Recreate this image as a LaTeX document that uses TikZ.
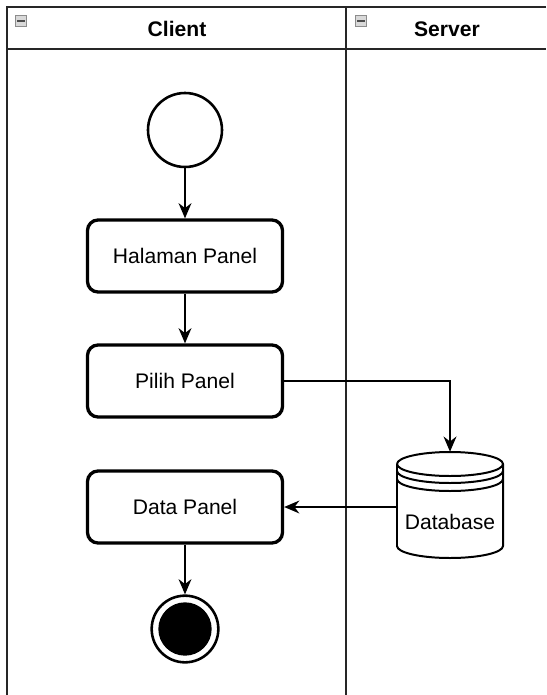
\documentclass[tikz,border=0pt]{standalone}
\usepackage{fontspec}
\setmainfont{Liberation Sans}
\usetikzlibrary{arrows.meta,positioning}

\tikzset{
    lane/.style={line width=1.7pt, draw=black!85},
    action/.style={draw, line width=2.8pt, rounded corners=9pt,
        minimum width=5.85cm, minimum height=2.16cm, font=\fontsize{18}{20}\selectfont},
    initial/.style={draw, circle, line width=2.2pt, minimum size=2.22cm},
    final/.style={draw, circle, line width=2.2pt, minimum size=2.0cm,
        path picture={\fill (path picture bounding box.center) circle (0.8cm);}},
    flow/.style={line width=1.4pt, -{Stealth[length=13pt, width=11pt]}},
    collapse/.style={draw=black!45, fill=black!15, line width=0.7pt,
        minimum size=0.33cm, inner sep=0pt},
}

\begin{document}
\begin{tikzpicture}[x=0.03cm, y=-0.03cm]
        \useasboundingbox (0,0) rectangle (546,695);
        % swimlanes
        \draw[lane] (546,7) -- (7,7) -- (7,695);
        \draw[lane] (7,49) -- (546,49);
        \draw[lane] (346,7) -- (346,695);
        \node[collapse] (iconc) at (21,21) {};
        \node[collapse] (icons) at (361,21) {};
        \draw[black!70, line width=1pt] ([xshift=2pt]iconc.west) -- ([xshift=-2pt]iconc.east);
        \draw[black!70, line width=1pt] ([xshift=2pt]icons.west) -- ([xshift=-2pt]icons.east);
        \node[font=\bfseries\fontsize{18}{20}\selectfont] (client) at (177,29) {Client};
        \node[font=\bfseries\fontsize{18}{20}\selectfont] (server) at (447,29) {Server};

        % activities
        \node[initial] (start) at (185,130) {};
        \node[action] (halaman) at (185,256) {Halaman Panel};
        \node[action] (pilih) at (185,381) {Pilih Panel};
        \node[action] (data) at (185,507) {Data Panel};
        \node[final] (end) at (185,629) {};

        % database
        \node[minimum width=3.21cm, minimum height=3.18cm, inner sep=0pt] (db) at (450,505) {};
        \begin{scope}[line width=1.7pt]
            \draw[fill=white] (397,464) -- (397,546) arc[start angle=180, end angle=0, x radius=53, y radius=12]
                -- (503,464) arc[start angle=0, end angle=-180, x radius=53, y radius=12];
            \draw (397,464) arc[start angle=180, end angle=0, x radius=53, y radius=12];
            \draw (397,471) arc[start angle=180, end angle=0, x radius=53, y radius=12];
            \draw (397,479) arc[start angle=180, end angle=0, x radius=53, y radius=12];
        \end{scope}
        \node[font=\fontsize{18}{20}\selectfont] (dblabel) at (450,522) {Database};

        % connectors
        \draw[flow] (start) -- (halaman);
        \draw[flow] (halaman) -- (pilih);
        \draw[flow] (pilih.east) -| (db.north);
        \draw[flow] (db.west |- data.east) -- (data.east);
        \draw[flow] (data) -- (end);
    \end{tikzpicture}
\end{document}
